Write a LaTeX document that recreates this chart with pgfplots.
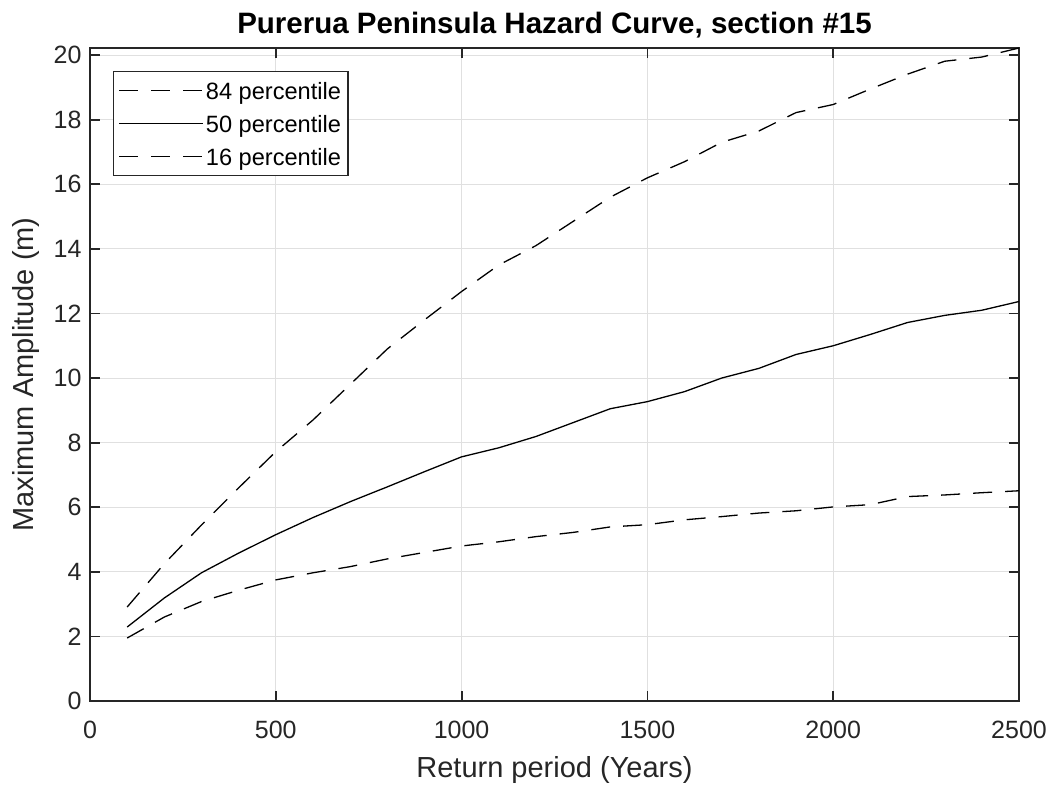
\documentclass[border=0pt]{standalone}
\usepackage{fontspec}
\setmainfont{Liberation Sans}
\usepackage{pgfplots}
\pgfplotsset{compat=1.18}
\definecolor{axgray}{HTML}{262626}
\definecolor{gridgray}{HTML}{E0E0E0}

\begin{document}
\begin{tikzpicture}[x=1pt,y=1pt]
\useasboundingbox (0,0) rectangle (1054,788);
\begin{axis}[
  at={(90pt,87pt)}, anchor=south west,
  scale only axis, width=929pt, height=653pt,
  xmin=0, xmax=2500, ymin=0, ymax=20.22,
  xtick={0,500,...,2500}, ytick={0,2,...,20},
  grid=major, major grid style={gridgray, line width=1pt},
  axis line style={axgray, line width=1.8pt},
  tick style={axgray, line width=1.8pt}, major tick length=10pt, tick align=inside,
  ticklabel style={font=\fontsize{25}{30}\selectfont, text=axgray},
  xticklabel style={anchor=base, yshift=-37pt},
  yticklabel style={anchor=east, xshift=-5pt},
  /pgf/number format/assume math mode=true,
  /pgf/number format/1000 sep={},
  xlabel={Return period (Years)}, ylabel={Maximum Amplitude (m)},
  label style={font=\fontsize{29}{34}\selectfont, text=axgray},
  xlabel style={anchor=base, at={([yshift=-76pt]axis description cs:0.5,0)}},
  ylabel style={anchor=base, rotate=0, at={([xshift=-56pt]axis description cs:0,0.5)}},
  title={Purerua Peninsula Hazard Curve, section \#15},
  title style={font=\fontsize{29.5}{34}\selectfont\bfseries, text=black, anchor=base,
    at={([yshift=8pt]axis description cs:0.5,1)}},
  legend style={at={(0.0248,0.9648)}, anchor=north west, draw=axgray, line width=1.2pt,
    font=\fontsize{23.6}{28}\selectfont, text=black, fill=white,
    nodes={inner sep=2pt, text height=21pt, text depth=3pt},
    row sep=5pt, inner sep=5pt},
  legend cell align=left,
  legend image code/.code={\draw[#1, line width=1.3pt] (0pt,0pt) -- (79pt,0pt);
    \path (0pt,0pt) -- (84pt,0pt);},
]
\addplot[black, line width=1.3pt, dash pattern=on 19pt off 13pt] coordinates {
(100,2.91) (200,4.25) (300,5.45) (400,6.6) (500,7.72) (600,8.7) (700,9.8) (800,10.9)
(900,11.8) (1000,12.68) (1100,13.5) (1200,14.1) (1300,14.85) (1400,15.6) (1500,16.2)
(1600,16.7) (1700,17.3) (1800,17.65) (1900,18.22) (2000,18.47) (2100,18.95) (2200,19.41)
(2300,19.81) (2400,19.94) (2500,20.22)};
\addlegendentry{84 percentile}
\addplot[black, line width=1.3pt] coordinates {
(100,2.29) (200,3.19) (300,3.97) (400,4.58) (500,5.15) (600,5.68) (700,6.17) (800,6.63)
(900,7.1) (1000,7.56) (1100,7.84) (1200,8.19) (1300,8.62) (1400,9.05) (1500,9.27)
(1600,9.58) (1700,10.0) (1800,10.3) (1900,10.73) (2000,11.0) (2100,11.35) (2200,11.72)
(2300,11.94) (2400,12.1) (2500,12.37)};
\addlegendentry{50 percentile}
\addplot[black, line width=1.3pt, dash pattern=on 19pt off 13pt] coordinates {
(100,1.95) (200,2.6) (300,3.08) (400,3.43) (500,3.75) (600,3.97) (700,4.16) (800,4.4)
(900,4.6) (1000,4.8) (1100,4.93) (1200,5.09) (1300,5.22) (1400,5.39) (1500,5.46)
(1600,5.61) (1700,5.71) (1800,5.82) (1900,5.89) (2000,6.01) (2100,6.08) (2200,6.33)
(2300,6.38) (2400,6.45) (2500,6.51)};
\addlegendentry{16 percentile}
\end{axis}
\end{tikzpicture}
\end{document}
